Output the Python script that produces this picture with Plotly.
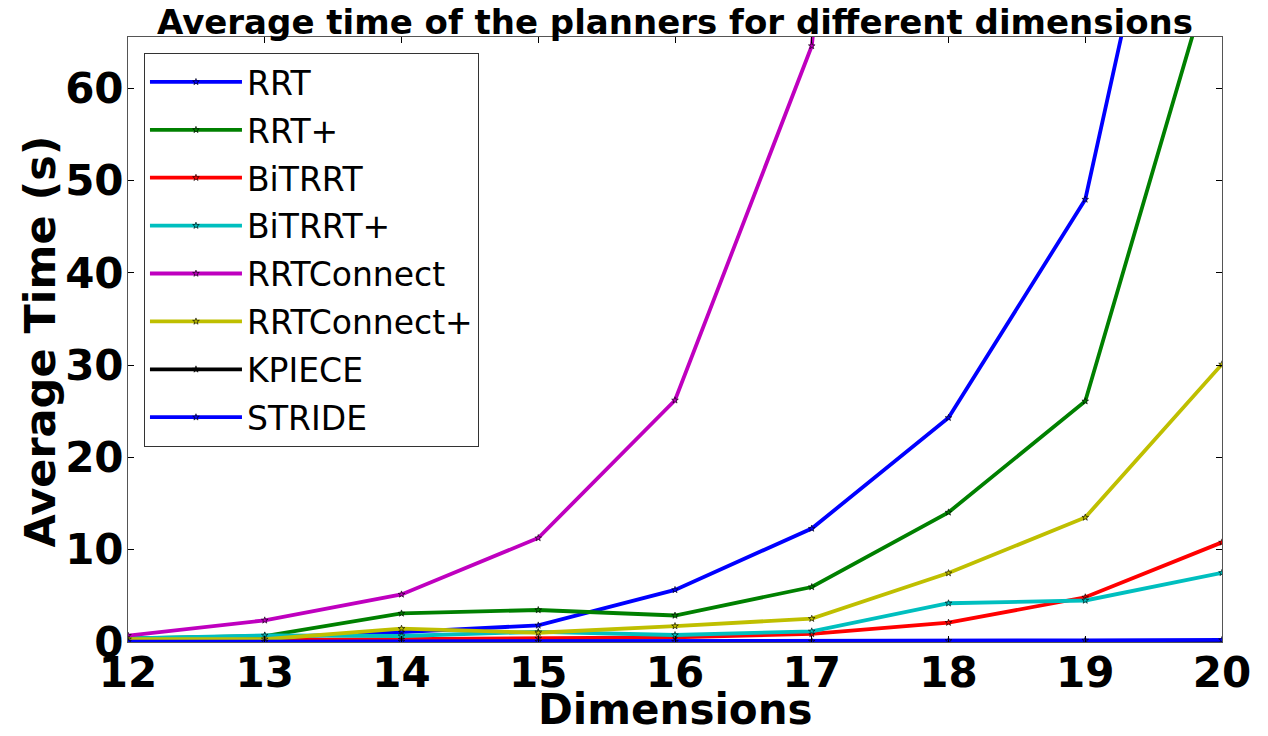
import plotly.graph_objects as go

dims = [12, 13, 14, 15, 16, 17, 18, 19, 20]
names = ["RRT", "RRT+", "BiTRRT", "BiTRRT+", "RRTConnect", "RRTConnect+", "KPIECE", "STRIDE"]
rrt = [0.2, 0.47, 1.08, 1.8, 5.65, 12.3, 24.3, 47.96, 115.0]
rrt_plus = [0.4, 0.65, 3.1, 3.47, 2.87, 5.96, 14.05, 26.1, 76.6]
bitrrt = [0.1, 0.2, 0.3, 0.4, 0.5, 0.87, 2.1, 4.85, 10.8]
bitrrt_plus = [0.4, 0.72, 0.65, 1.1, 0.76, 1.16, 4.2, 4.5, 7.5]
rrtconnect = [0.7, 2.35, 5.16, 11.27, 26.2, 64.6, 200.0, 400.0, 800.0]
rrtconnect_plus = [0.3, 0.3, 1.45, 1.0, 1.73, 2.53, 7.47, 13.5, 30.1]
kpiece = [0.02, 0.02, 0.02, 0.02, 0.02, 0.02, 0.02, 0.02, 0.02]
stride = [0.03, 0.04, 0.05, 0.05, 0.05, 0.07, 0.14, 0.18, 0.23]

series = [rrt, rrt_plus, bitrrt, bitrrt_plus, rrtconnect, rrtconnect_plus, kpiece, stride]
colors = ["#0000ff", "#008000", "#ff0000", "#00bfbf", "#bf00bf", "#bfbf00", "#000000", "#0000ff"]

fig = go.Figure()
for name, ys, col in zip(names, series, colors):
    fig.add_trace(go.Scatter(
        x=dims, y=ys, name=name, mode="lines+markers",
        legendgroup=name,
        line=dict(color=col, width=3.8),
        marker=dict(symbol="star", size=5, color=col, line=dict(color="black", width=0.6)),
        cliponaxis=True,
    ))

axis_font = dict(family="DejaVu Sans", size=42, color="black", weight="bold")
title_font = dict(family="DejaVu Sans", size=42, color="black")
fig.update_layout(
    width=1252, height=720,
    margin=dict(l=120, r=38, t=29, b=86),
    paper_bgcolor="white", plot_bgcolor="white",
    title=dict(text="<b>Average time of the planners for different dimensions</b>",
               font=dict(family="DejaVu Sans", size=34, color="black"),
               x=0.5, xref="paper", xanchor="center", y=0.98, yanchor="middle"),
    showlegend=True,
    legend=dict(x=0.0146, y=0.9736, xanchor="left", yanchor="top",
                bordercolor="#333333", borderwidth=1, bgcolor="white",
                font=dict(family="DejaVu Sans", size=33, color="black"),
                tracegroupgap=2, itemwidth=92),
    xaxis=dict(range=[12, 20], tickvals=dims, ticktext=[str(d) for d in dims],
               ticks="inside", ticklen=6, tickcolor="black", showgrid=False, zeroline=False,
               showline=True, linecolor="#555555", linewidth=1, mirror="ticks",
               tickfont=axis_font, automargin=False, ticklabelstandoff=-6),
    yaxis=dict(range=[0, 65.57], tickvals=[0, 10, 20, 30, 40, 50, 60],
               ticks="inside", ticklen=6, tickcolor="black", showgrid=False, zeroline=False,
               showline=True, linecolor="#555555", linewidth=1, mirror="ticks",
               tickfont=axis_font, automargin=False, ticklabelstandoff=-5),
    annotations=[
        dict(text="<b>Dimensions</b>", xref="paper", yref="paper", x=0.5, y=-0.111,
             xanchor="center", yanchor="middle", showarrow=False, font=title_font),
        dict(text="<b>Average Time (s)</b>", xref="paper", yref="paper", x=-0.0804, y=0.4967,
             xanchor="center", yanchor="middle", textangle=-90, showarrow=False,
             font=dict(family="DejaVu Sans", size=43, color="black")),
    ],
)

fig.write_html("out.html")
